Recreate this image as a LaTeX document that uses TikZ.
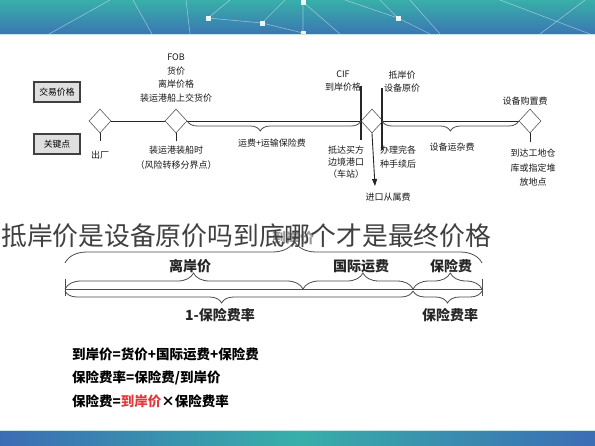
\documentclass[tikz,border=0pt]{standalone}
\usepackage{fontspec}
\usepackage{tikz}
\usetikzlibrary{shapes.geometric, arrows.meta, positioning, decorations.pathreplacing}
\newfontfamily\cjk{Noto Sans CJK SC}
\definecolor{BandTeal}{HTML}{38AFA9}
\definecolor{BandBlue}{HTML}{3B6DB5}
\definecolor{PriceRed}{HTML}{E23A3A}

\begin{document}
\begin{tikzpicture}
  [
    x=1pt, y=-1pt,
    Diamond/.style={diamond, draw=black!65, fill=white, semithick, minimum width=22pt, minimum height=24pt, inner sep=0pt},
    Box/.style={rectangle, draw=black!75, fill=gray!25, line width=1.4pt, minimum width=46pt, minimum height=20pt, inner sep=0pt, font=\cjk\fontsize{8.8}{10}\selectfont},
    Small/.style={font=\cjk\fontsize{9}{13}\selectfont, text=black!90, align=center, inner sep=0pt},
    Big/.style={font=\cjk\bfseries\fontsize{14}{16}\selectfont, text=black!85, inner sep=0pt},
    Formula/.style={font=\cjk\bfseries\fontsize{13.5}{16}\selectfont, text=black, anchor=west, inner sep=0pt},
    Rule/.style={draw=black!85, line width=0.9pt},
    BraceUp/.style 2 args={decorate, decoration={brace, amplitude=#1, aspect=#2}, draw=black!70, line width=0.8pt},
    BraceDown/.style 2 args={decorate, decoration={brace, mirror, amplitude=#1, aspect=#2}, draw=black!70, line width=0.8pt},
    Net/.style={draw=white, opacity=0.45, line width=0.6pt}
  ]
  \useasboundingbox (0,0) rectangle (595,445);
  \fill[white] (0,0) rectangle (595,445);

  % Bands
  \shade[top color=BandTeal, bottom color=BandBlue!85!BandTeal] (0,0) rectangle (595,34);
  \draw[Net] (49,34) -- (110,0) (133,0) -- (152,34) (186,0) -- (190,34);
  \draw[Net] (208,18) -- (230,0) (208,18) -- (262,23) (262,23) -- (285,0) (262,23) -- (303,33);
  \draw[Net] (303,33) -- (303,0) (303,2) -- (340,34) (398,18) -- (345,0) (398,18) -- (430,34);
  \draw[Net] (398,18) -- (380,0) (410,0) -- (440,34) (500,0) -- (590,34) (540,34) -- (585,0);
  \foreach \sx/\sy in {208/18, 262/23, 303/2, 303/33, 398/18}
    \fill[white, opacity=0.9] (\sx-2.5,\sy-2.5) rectangle (\sx+2.5,\sy+2.5);
  \draw[white!70!BandTeal, line width=1pt] (0,34) -- (595,34);
  \shade[left color=BandBlue, right color=BandBlue, middle color=BandTeal] (0,430) rectangle (595,445);
  \draw[white!70!BandTeal, line width=1pt] (0,430) -- (595,430);

  % Nodes
  \node[Box] (price) at(57, 92) {交易价格};
  \node[Box] (key) at(57, 144) {关键点};

  \node[Diamond] (d0) at(100, 121) {};
  \node[Diamond] (d1) at(176, 121) {};
  \node[Diamond] (d2) at(372, 121) {};
  \node[Diamond] (d3) at(530, 121) {};

  \coordinate (t0) at(100, 141);
  \coordinate (t1) at(176, 141);
  \coordinate (t3) at(530, 142);
  \coordinate (cifTop) at(361, 86);
  \coordinate (cifMid) at(361, 121);
  \coordinate (cifBot) at(361, 140);
  \coordinate (landTop) at(382, 88);
  \coordinate (landMid) at(382, 121);
  \coordinate (landBot) at(382, 150);
  \coordinate (feeTip) at(375, 186);

  \node[Small] (out) at(100, 155) {出厂};
  \node[Small, font=\cjk\fontsize{9}{13.7}\selectfont] (fob) at(176, 78) {FOB\\货价\\离岸价格\\装运港船上交货价};
  \node[Small, font=\cjk\fontsize{9}{15}\selectfont] (ship) at(176, 158) {装运港装船时\\（风险转移分界点）};
  \node[Small] (freight) at(272, 143) {运费+运输保险费};
  \node[Small] (cif) at(343, 81) {CIF\\到岸价格};
  \node[Small] (land) at(402, 82) {抵岸价\\设备原价};
  \node[Small, font=\cjk\fontsize{9}{12}\selectfont] (border) at(346, 162) {抵达买方\\边境港口\\（车站）};
  \node[Small, font=\cjk\fontsize{9}{14}\selectfont] (customs) at(398, 157) {办理完各\\种手续后};
  \node[Small] (fee) at(388, 197) {进口从属费};
  \node[Small] (misc) at(452, 147) {设备运杂费};
  \node[Small] (buy) at(525, 101) {设备购置费};
  \node[Small, font=\cjk\fontsize{9}{14.5}\selectfont] (site) at(533, 168) {到达工地仓\\库或指定堆\\放地点};

  % Time line
  \draw[Rule] (d0.east) -- (d1.west);
  \draw[Rule] (d1.east) -- (d2.west);
  \draw[Rule] (d2.east) -- (d3.west);
  \draw[Rule] (d0.south) -- (t0);
  \draw[Rule] (d1.south) -- (t1);
  \draw[Rule] (d3.south) -- (t3);
  \draw[Rule, line width=1.1pt] (cifTop) -- (cifBot);
  \draw[Rule, line width=1.1pt] (landTop) -- (landBot);
  \draw[Rule, -{Triangle[width=5pt, length=7pt]}] (d2.south) -- (feeTip);
  \draw[BraceDown={10pt}{0.42}] (d1.east) -- (cifMid);
  \draw[BraceDown={10pt}{0.5}] (landMid) -- (d3.west);

  % Title
  \node[Big, text=black!40] (ghost) at(293, 238) {到岸价};
  \node[font=\cjk\fontsize{25.8}{28}\selectfont, text=black!75, anchor=west, inner sep=0pt] (title) at(1, 236) {抵岸价是设备原价吗到底哪个才是最终价格};

  % Price split
  \coordinate (a0) at(65, 263);
  \coordinate (a1) at(482, 263);
  \coordinate (b0) at(65, 289);
  \coordinate (b1) at(303, 289);
  \coordinate (b2) at(413, 289);
  \coordinate (b3) at(482, 289);
  \coordinate (c0) at(65, 291);
  \coordinate (c2) at(413, 291);
  \coordinate (c3) at(482, 291);
  \coordinate (k0) at(65, 279);
  \coordinate (k1) at(65, 296);
  \coordinate (k2) at(482, 279);
  \coordinate (k3) at(482, 296);

  \node[Big] (fobPrice) at(190, 266) {离岸价};
  \node[Big] (freightPrice) at(361, 266) {国际运费};
  \node[Big] (insure) at(451, 266) {保险费};
  \node[Big] (restRate) at(220, 315) {1-保险费率};
  \node[Big] (rate) at(450, 315) {保险费率};

  \draw[BraceUp={22pt}{0.55}] (a0) -- (a1);
  \draw[BraceUp={16pt}{0.54}] (b0) -- (b1);
  \draw[BraceUp={16pt}{0.545}] (b1) -- (b2);
  \draw[BraceUp={16pt}{0.54}] (b2) -- (b3);
  \draw[draw=black!70, line width=0.8pt] (b0) -- (b3);
  \draw[BraceDown={12pt}{0.45}] (c0) -- (c2);
  \draw[BraceDown={12pt}{0.5}] (c2) -- (c3);
  \draw[draw=black!70, line width=0.8pt] (k0) -- (k1);
  \draw[draw=black!70, line width=0.8pt] (k2) -- (k3);

  % Formulas
  \node[Formula] (f1) at(72, 354) {到岸价=货价+国际运费+保险费};
  \node[Formula] (f2) at(72, 378) {保险费率=保险费/到岸价};
  \node[Formula] (f3) at(72, 401) {保险费=\textcolor{PriceRed}{到岸价}×保险费率};
\end{tikzpicture}
\end{document}
